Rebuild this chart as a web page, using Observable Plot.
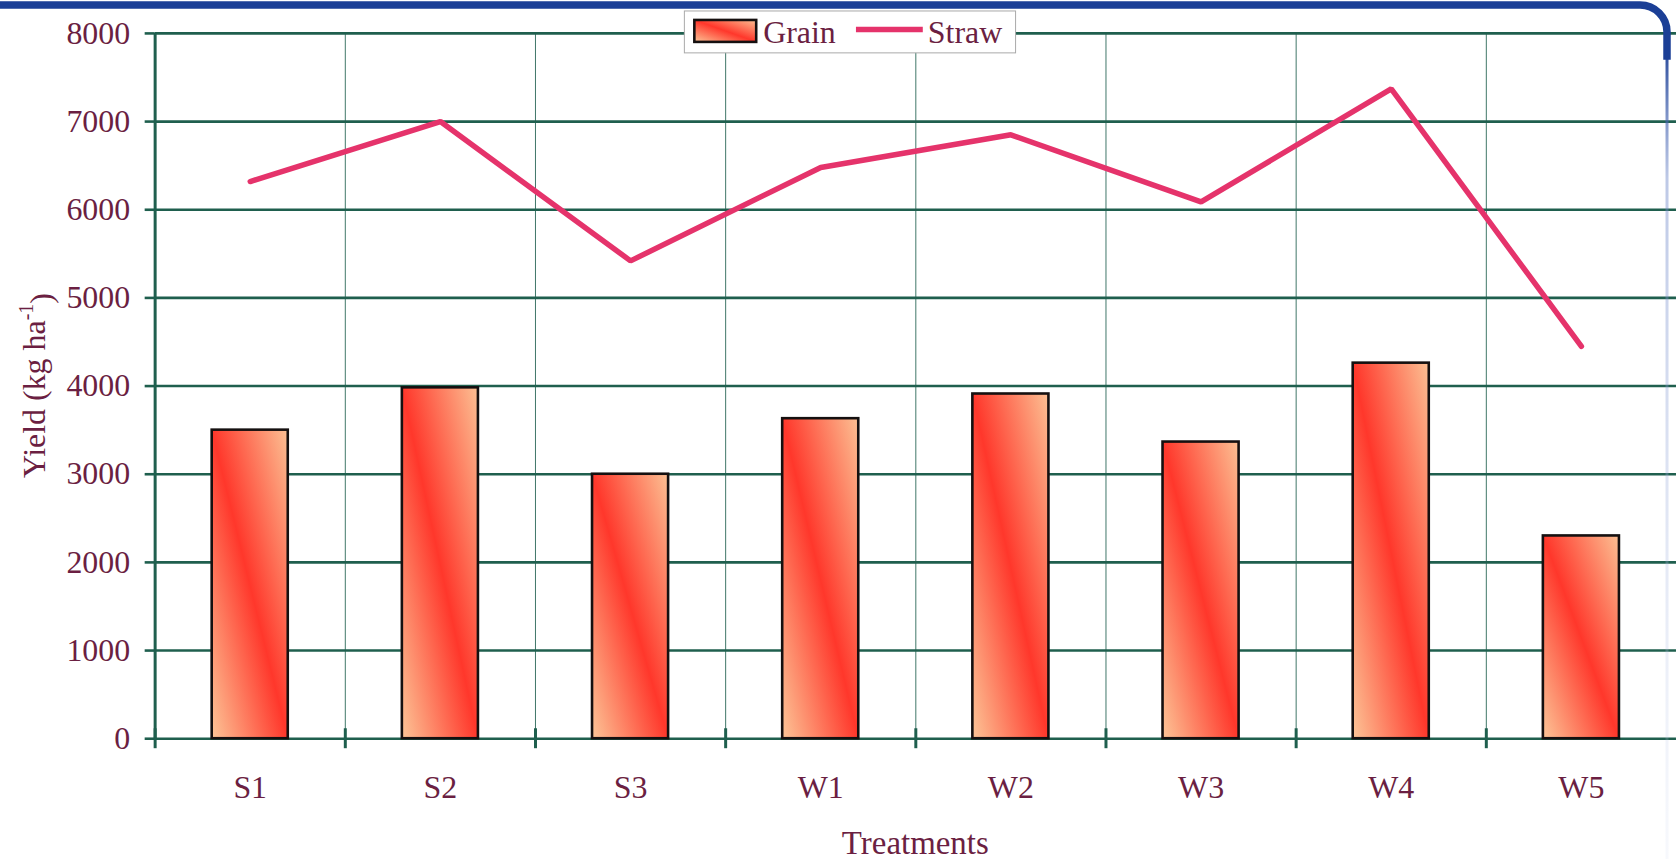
<!DOCTYPE html>
<html>
<head>
<meta charset="utf-8">
<script src="https://cdn.jsdelivr.net/npm/d3@7"></script>
<script src="https://cdn.jsdelivr.net/npm/@observablehq/plot@0.6"></script>
<style>
  html, body { margin: 0; padding: 0; background: #fff; overflow: hidden; }
  #chart { position: relative; width: 1676px; height: 861px; overflow: hidden; }
</style>
</head>
<body>
<div id="chart"></div>
<script>
// Yield per treatment, kg/ha
const treatments = ["S1", "S2", "S3", "W1", "W2", "W3", "W4", "W5"];
const grainYield = [3500, 3980, 3000, 3630, 3910, 3365, 4260, 2300];
const strawYield = [6320, 7000, 5420, 6480, 6850, 6090, 7370, 4450];
const yTicks = [0, 1000, 2000, 3000, 4000, 5000, 6000, 7000, 8000];
const seriesNames = ["Grain", "Straw"];
const xTitle = "Treatments";
const yTitle = ["Yield (kg ha", "-1", ")"];

// styling
const gridColor = "#1f5f4e";
const textColor = "#6b1f42";
const strawColor = "#e5336b";
const serif = "'Liberation Serif', 'Times New Roman', serif";

const n = treatments.length;
const centre = i => i + 0.5;          // middle of category i on the index scale
const rows = treatments.map((t, i) => ({t, i, grain: grainYield[i], straw: strawYield[i]}));

// diagonal peach-red-peach fill used for the grain bars
const defs = () => {
  const d = d3.create("svg:defs");
  const g = d.append("linearGradient").attr("id", "grain-fill")
    .attr("x1", 0).attr("y1", 1).attr("x2", 1).attr("y2", 0);
  g.append("stop").attr("offset", 0).attr("stop-color", "#fcc597");
  g.append("stop").attr("offset", 0.5).attr("stop-color", "#ff372b");
  g.append("stop").attr("offset", 1).attr("stop-color", "#fcc093");
  const b = d.append("linearGradient").attr("id", "edge-fade")
    .attr("x1", 0).attr("y1", 0).attr("x2", 0).attr("y2", 1);
  b.append("stop").attr("offset", 0).attr("stop-color", "#1b3f96").attr("stop-opacity", 0.9);
  b.append("stop").attr("offset", 0.15).attr("stop-color", "#6d86c8").attr("stop-opacity", 0.45);
  b.append("stop").attr("offset", 1).attr("stop-color", "#c9d3ee").attr("stop-opacity", 0.15);
  return d.node();
};

const chart = Plot.plot({
  width: 1680,
  height: 861,
  marginLeft: 155,
  marginRight: 0,
  marginTop: 33,
  marginBottom: 121,
  style: {fontFamily: serif, fontSize: "32px", background: "white", color: textColor, overflow: "visible"},
  x: {domain: [0, n], axis: null},
  y: {domain: [0, 8000], axis: null},
  marks: [
    defs,
    // thin vertical separators between treatments
    Plot.ruleX(d3.range(1, n), {stroke: gridColor, strokeWidth: 1, strokeOpacity: 0.85}),
    // horizontal grid
    Plot.ruleY(yTicks, {stroke: gridColor, strokeWidth: 2.6}),
    // y axis line
    Plot.ruleX([0], {stroke: gridColor, strokeWidth: 3}),
    Plot.axisY({
      ticks: yTicks, tickSize: 10, tickPadding: 15, tickFormat: d => String(d),
      stroke: gridColor, strokeWidth: 2.6, fill: textColor, label: null
    }),
    // crossing tick marks at category boundaries
    Plot.axisX({
      ticks: d3.range(0, n), tickSize: 20, dy: -10, tickFormat: () => "",
      stroke: gridColor, strokeWidth: 3, label: null
    }),
    // treatment names under each category
    Plot.axisX({
      ticks: d3.range(n).map(centre), tickSize: 0, tickPadding: 37,
      tickFormat: v => treatments[Math.floor(v)], fill: textColor, label: null
    }),
    Plot.rect(rows, {
      x1: d => centre(d.i) - 0.2, x2: d => centre(d.i) + 0.2,
      y1: 0, y2: "grain",
      fill: "url(#grain-fill)", stroke: "#151010", strokeWidth: 2.6
    }),
    Plot.line(rows, {
      x: d => centre(d.i), y: "straw",
      stroke: strawColor, strokeWidth: 5.5, strokeLinejoin: "miter", strokeLinecap: "round"
    })
  ]
});

document.getElementById("chart").appendChild(chart);

const svg = d3.select(chart);
const xs = chart.scale("x");
const ys = chart.scale("y");

// axis titles
const yMid = (ys.apply(0) + ys.apply(8000)) / 2;
const yt = svg.append("text")
  .attr("transform", `translate(45,${yMid}) rotate(-90)`)
  .attr("text-anchor", "middle")
  .attr("fill", textColor)
  .style("font-family", serif).style("font-size", "32px");
yt.append("tspan").text(yTitle[0]);
yt.append("tspan").attr("dy", "-0.6em").style("font-size", "20px").text(yTitle[1]);
yt.append("tspan").attr("dy", "0.6em").text(yTitle[2]);

svg.append("text")
  .attr("x", (xs.apply(0) + xs.apply(n)) / 2)
  .attr("y", 856)
  .attr("text-anchor", "middle")
  .attr("fill", textColor)
  .style("font-family", serif).style("font-size", "33px")
  .text(xTitle);

// legend box sitting on the top grid line
const lg = svg.append("g").style("font-family", serif).style("font-size", "32px")
  .attr("text-anchor", "start");
lg.append("rect").attr("x", 686).attr("y", 11).attr("width", 332).attr("height", 42)
  .attr("fill", "white").attr("stroke", "#a9a9a9").attr("stroke-width", 1);
lg.append("rect").attr("x", 696).attr("y", 20).attr("width", 62).attr("height", 22)
  .attr("fill", "url(#grain-fill)").attr("stroke", "#151010").attr("stroke-width", 2.6);
lg.append("text").attr("x", 765).attr("y", 43).attr("fill", textColor).text(seriesNames[0]);
lg.append("line").attr("x1", 858).attr("x2", 925).attr("y1", 29.5).attr("y2", 29.5)
  .attr("stroke", strawColor).attr("stroke-width", 5.5);
lg.append("text").attr("x", 930).attr("y", 43).attr("fill", textColor).text(seriesNames[1]);

// rounded blue frame along the top and right edge
svg.append("path")
  .attr("d", "M -10 5 H 1644 A 27 27 0 0 1 1671 32 V 60")
  .attr("fill", "none").attr("stroke", "#1b3f96").attr("stroke-width", 7.5);
svg.append("rect")
  .attr("x", 1669.5).attr("y", 58).attr("width", 3).attr("height", 803)
  .attr("fill", "url(#edge-fade)");
</script>
</body>
</html>
